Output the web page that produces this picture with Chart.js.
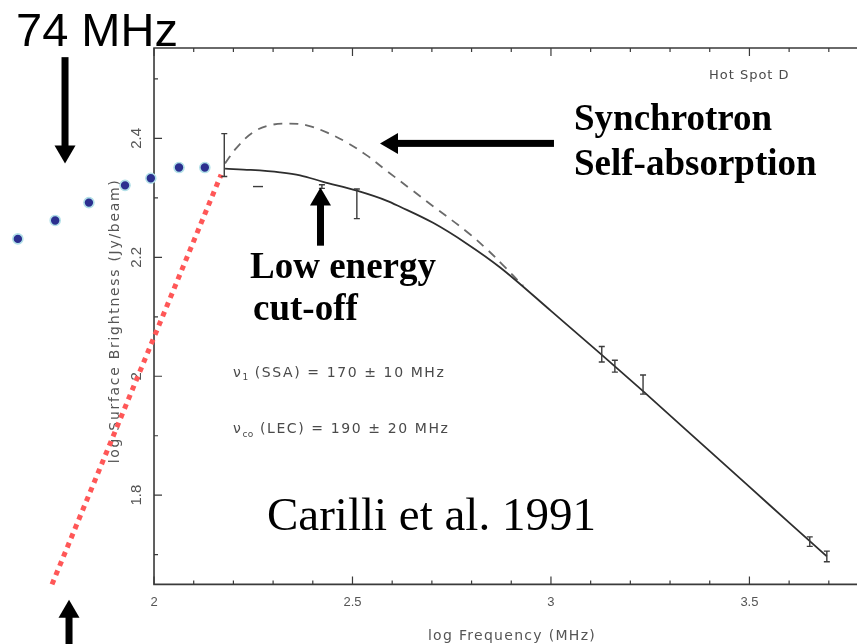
<!DOCTYPE html>
<html>
<head>
<meta charset="utf-8">
<script src="https://cdn.jsdelivr.net/npm/chart.js@4.4.1/dist/chart.umd.min.js"></script>
<style>
  html, body { margin: 0; padding: 0; background: #fff; }
  #wrap { width: 857px; height: 644px; position: relative; overflow: hidden; }
</style>
</head>
<body>
<div id="wrap"><canvas id="spectrum"></canvas></div>
<script>
// Hot Spot D: log frequency (MHz) against log surface brightness (Jy/beam)
const hotSpotLogFreq   = [2.177, 2.262, 2.423, 2.511, 3.128, 3.161, 3.232, 3.652, 3.695];
const hotSpotLogBright = [2.372, 2.319, 2.319, 2.290, 2.037, 2.017, 1.986, 1.722, 1.697];
const hotSpotErr       = [0.036, 0.000, 0.003, 0.025, 0.013, 0.010, 0.016, 0.008, 0.009];

// Low-energy cut-off model (solid curve)
const lecLogFreq   = [2.179, 2.242, 2.317, 2.368, 2.426, 2.511, 2.587, 2.620, 2.703, 2.788, 2.872, 3.000, 3.123, 3.232, 3.400, 3.550, 3.695];
const lecLogBright = [2.349, 2.347, 2.343, 2.338, 2.327, 2.312, 2.295, 2.285, 2.258, 2.223, 2.183, 2.110, 2.039, 1.975, 1.874, 1.784, 1.697];

// Synchrotron self-absorption model (dashed curve)
const ssaLogFreq   = [2.179, 2.209, 2.249, 2.292, 2.338, 2.385, 2.435, 2.486, 2.537, 2.587, 2.652, 2.703, 2.788, 2.841, 2.879, 2.930];
const ssaLogBright = [2.358, 2.385, 2.410, 2.422, 2.425, 2.422, 2.410, 2.393, 2.371, 2.345, 2.312, 2.286, 2.243, 2.212, 2.187, 2.152];

// Low-frequency measurements
const lowLogFreq   = [1.657, 1.751, 1.836, 1.927, 1.992, 2.063, 2.128];
const lowLogBright = [2.231, 2.262, 2.292, 2.321, 2.333, 2.351, 2.351];

// Optically thick extrapolation
const thickLogFreq   = [1.743, 2.169];
const thickLogBright = [1.650, 2.339];

// Axis ticks
const xTickValues = [2, 2.5, 3, 3.5];
const xTickLabels = ['2', '2.5', '3', '3.5'];
const xMinorTicks = [2.1, 2.2, 2.3, 2.4, 2.6, 2.7, 2.8, 2.9, 3.1, 3.2, 3.3, 3.4, 3.6, 3.7];
const yTickValues = [1.8, 2.0, 2.2, 2.4];
const yTickLabels = ['1.8', '2', '2.2', '2.4'];
const yMinorTicks = [1.7, 1.9, 2.1, 2.3, 2.5];

const xTitle = 'log Frequency (MHz)';
const yTitle = 'log Surface Brightness (Jy/beam)';

const plotFont = '"DejaVu Sans", sans-serif';
const inkGray = '#4a4a4a';

// Text annotations, anchored in data units
const textNotes = [
  { text: '74 MHz', x: 1.6524, y: 2.555, font: '47px "Liberation Sans", Arial, sans-serif', color: '#000' },
  { text: 'Synchrotron', x: 3.058, y: 2.4135, font: 'bold 37px "Liberation Serif", "Times New Roman", serif', color: '#000' },
  { text: 'Self-absorption', x: 3.058, y: 2.3376, font: 'bold 37px "Liberation Serif", "Times New Roman", serif', color: '#000' },
  { text: 'Low energy', x: 2.2418, y: 2.1656, font: 'bold 37px "Liberation Serif", "Times New Roman", serif', color: '#000' },
  { text: 'cut-off', x: 2.2494, y: 2.0948, font: 'bold 37px "Liberation Serif", "Times New Roman", serif', color: '#000' },
  { text: 'Carilli et al. 1991', x: 2.2846, y: 1.7423, font: '47px "Liberation Serif", "Times New Roman", serif', color: '#000' },
  { text: 'Hot Spot D', x: 3.398, y: 2.5062, font: '13px ' + plotFont, color: inkGray, baseline: 'middle', spacing: '1px' }
];

// Fit results with a subscripted nu
const fitNotes = [
  { sub: '1', rest: ' (SSA) = 170 \u00b1 10 MHz', x: 2.199, y: 2.0054 },
  { sub: 'co', rest: ' (LEC) = 190 \u00b1 20 MHz', x: 2.199, y: 1.911 }
];

// Arrows: tail -> tip, in data units
const arrows = [
  { from: [1.7758, 2.5366], to: [1.7758, 2.3578] },
  { from: [1.7859, 1.5366], to: [1.7859, 1.6243] },
  { from: [3.0076, 2.3916], to: [2.5693, 2.3916] },
  { from: [2.4194, 2.2196], to: [2.4194, 2.3174] }
];

function drawArrow(ctx, x1, y1, x2, y2) {
  const shaft = 7, headW = 21, headL = 18;
  const ang = Math.atan2(y2 - y1, x2 - x1);
  const len = Math.hypot(x2 - x1, y2 - y1);
  ctx.save();
  ctx.translate(x1, y1);
  ctx.rotate(ang);
  ctx.fillStyle = '#000';
  ctx.fillRect(0, -shaft / 2, len - headL + 1, shaft);
  ctx.beginPath();
  ctx.moveTo(len, 0);
  ctx.lineTo(len - headL, -headW / 2);
  ctx.lineTo(len - headL, headW / 2);
  ctx.closePath();
  ctx.fill();
  ctx.restore();
}

// Boxed frame starting at log nu = 2, with inward ticks and rotated y labels
const framePlugin = {
  id: 'frame',
  beforeDatasetsDraw(chart) {
    const { ctx, chartArea, scales: { x, y } } = chart;
    const x0 = x.getPixelForValue(2);
    const right = chartArea.right + 2;
    const top = chartArea.top, bottom = chartArea.bottom;
    ctx.save();
    ctx.strokeStyle = '#3a3a3a';
    ctx.lineWidth = 1.6;
    ctx.beginPath();
    ctx.moveTo(right, top);
    ctx.lineTo(x0, top);
    ctx.lineTo(x0, bottom);
    ctx.lineTo(right, bottom);
    ctx.stroke();

    ctx.lineWidth = 1.2;
    ctx.beginPath();
    const xt = (v, len) => {
      const px = x.getPixelForValue(v);
      ctx.moveTo(px, bottom); ctx.lineTo(px, bottom - len);
      ctx.moveTo(px, top); ctx.lineTo(px, top + len);
    };
    xTickValues.forEach(v => xt(v, 8));
    xMinorTicks.forEach(v => xt(v, 4));
    const yt = (v, len) => {
      const py = y.getPixelForValue(v);
      ctx.moveTo(x0, py); ctx.lineTo(x0 + len, py);
    };
    yTickValues.forEach(v => yt(v, 8));
    yMinorTicks.forEach(v => yt(v, 4));
    ctx.stroke();

    // rotated y tick labels
    ctx.fillStyle = '#555';
    ctx.font = '15px "Liberation Sans", Arial, sans-serif';
    ctx.textAlign = 'center';
    ctx.textBaseline = 'middle';
    yTickValues.forEach((v, i) => {
      ctx.save();
      ctx.translate(x0 - 17, y.getPixelForValue(v));
      ctx.rotate(-Math.PI / 2);
      ctx.fillText(yTickLabels[i], 0, 0);
      ctx.restore();
    });

    // axis titles
    ctx.font = '14px ' + plotFont;
    ctx.letterSpacing = '1.7px';
    ctx.save();
    ctx.translate(x.getPixelForValue(1.9018), y.getPixelForValue(2.0931));
    ctx.rotate(-Math.PI / 2);
    ctx.fillText(yTitle, 0, 0);
    ctx.restore();
    ctx.letterSpacing = '1.3px';
    ctx.fillText(xTitle, x.getPixelForValue(2.9018), y.getPixelForValue(1.5619));
    ctx.restore();
  }
};

// Error bars for the hot spot measurements
const errorBarPlugin = {
  id: 'errorBars',
  afterDatasetsDraw(chart) {
    const { ctx, scales: { x, y } } = chart;
    ctx.save();
    ctx.strokeStyle = '#3c3c3c';
    ctx.lineWidth = 1.4;
    hotSpotLogFreq.forEach((f, i) => {
      const px = x.getPixelForValue(f);
      const v = hotSpotLogBright[i], e = hotSpotErr[i];
      ctx.beginPath();
      if (e === 0) {
        const py = y.getPixelForValue(v);
        ctx.moveTo(px - 5, py); ctx.lineTo(px + 5, py);
      } else {
        const pt = y.getPixelForValue(v + e), pb = y.getPixelForValue(v - e);
        ctx.moveTo(px, pt); ctx.lineTo(px, pb);
        ctx.moveTo(px - 3, pt); ctx.lineTo(px + 3, pt);
        ctx.moveTo(px - 3, pb); ctx.lineTo(px + 3, pb);
      }
      ctx.stroke();
    });
    ctx.restore();
  }
};

// Labels, fit results and arrows
const notesPlugin = {
  id: 'notes',
  afterDraw(chart) {
    const { ctx, scales: { x, y } } = chart;
    ctx.save();
    textNotes.forEach(n => {
      ctx.font = n.font;
      ctx.fillStyle = n.color;
      ctx.textAlign = 'left';
      ctx.textBaseline = n.baseline || 'alphabetic';
      ctx.letterSpacing = n.spacing || '0px';
      ctx.fillText(n.text, x.getPixelForValue(n.x), y.getPixelForValue(n.y));
    });
    ctx.fillStyle = inkGray;
    ctx.textBaseline = 'middle';
    ctx.letterSpacing = '1.6px';
    fitNotes.forEach(n => {
      let px = x.getPixelForValue(n.x);
      const py = y.getPixelForValue(n.y);
      ctx.font = '14px ' + plotFont;
      ctx.fillText('\u03bd', px, py);
      px += ctx.measureText('\u03bd').width;
      ctx.font = '9px ' + plotFont;
      ctx.letterSpacing = '0.5px';
      ctx.fillText(n.sub, px, py + 5);
      px += ctx.measureText(n.sub).width;
      ctx.font = '14px ' + plotFont;
      ctx.letterSpacing = '1.6px';
      ctx.fillText(n.rest, px, py);
    });
    ctx.letterSpacing = '0px';
    arrows.forEach(a => {
      drawArrow(ctx,
        x.getPixelForValue(a.from[0]), y.getPixelForValue(a.from[1]),
        x.getPixelForValue(a.to[0]), y.getPixelForValue(a.to[1]));
    });
    ctx.restore();
  }
};

const pairs = (xs, ys) => xs.map((v, i) => ({ x: v, y: ys[i] }));

new Chart(document.getElementById('spectrum'), {
  type: 'scatter',
  data: {
    datasets: [
      {
        label: 'LEC model',
        data: pairs(lecLogFreq, lecLogBright),
        showLine: true,
        borderColor: '#2e2e2e',
        borderWidth: 1.8,
        pointRadius: 0,
        cubicInterpolationMode: 'monotone',
        clip: false
      },
      {
        label: 'SSA model',
        data: pairs(ssaLogFreq, ssaLogBright),
        showLine: true,
        borderColor: '#6a6a6a',
        borderWidth: 1.8,
        borderDash: [9, 7],
        pointRadius: 0,
        tension: 0.4,
        clip: false
      },
      {
        label: 'Hot Spot D',
        data: pairs(hotSpotLogFreq, hotSpotLogBright),
        pointRadius: 0,
        clip: false
      },
      {
        label: 'Optically thick',
        data: pairs(thickLogFreq, thickLogBright),
        showLine: true,
        borderColor: '#ff5757',
        borderWidth: 5,
        borderDash: [5, 5],
        borderCapStyle: 'butt',
        pointRadius: 0,
        clip: false
      },
      {
        label: 'Low frequency',
        data: pairs(lowLogFreq, lowLogBright),
        pointRadius: 5,
        pointBackgroundColor: '#2b2f8f',
        pointBorderColor: '#b2e0e8',
        pointBorderWidth: 1.6,
        clip: false
      }
    ]
  },
  options: {
    animation: false,
    responsive: true,
    maintainAspectRatio: false,
    events: [],
    layout: { autoPadding: false, padding: { top: 48, right: 0, bottom: 24, left: 0 } },
    plugins: { legend: { display: false }, tooltip: { enabled: false } },
    scales: {
      x: {
        type: 'linear',
        min: 1.612,
        max: 3.771,
        grid: { display: false, drawTicks: false },
        border: { display: false },
        afterBuildTicks: scale => { scale.ticks = xTickValues.map(v => ({ value: v })); },
        afterFit: scale => { scale.paddingLeft = 0; scale.paddingRight = 0; },
        ticks: {
          autoSkip: false,
          maxRotation: 0,
          padding: 10,
          color: '#555',
          font: { family: '"Liberation Sans", Arial, sans-serif', size: 13 },
          callback: (value, index) => xTickLabels[index]
        }
      },
      y: {
        type: 'linear',
        min: 1.65,
        max: 2.552,
        display: false
      }
    }
  },
  plugins: [framePlugin, errorBarPlugin, notesPlugin]
});
</script>
</body>
</html>
